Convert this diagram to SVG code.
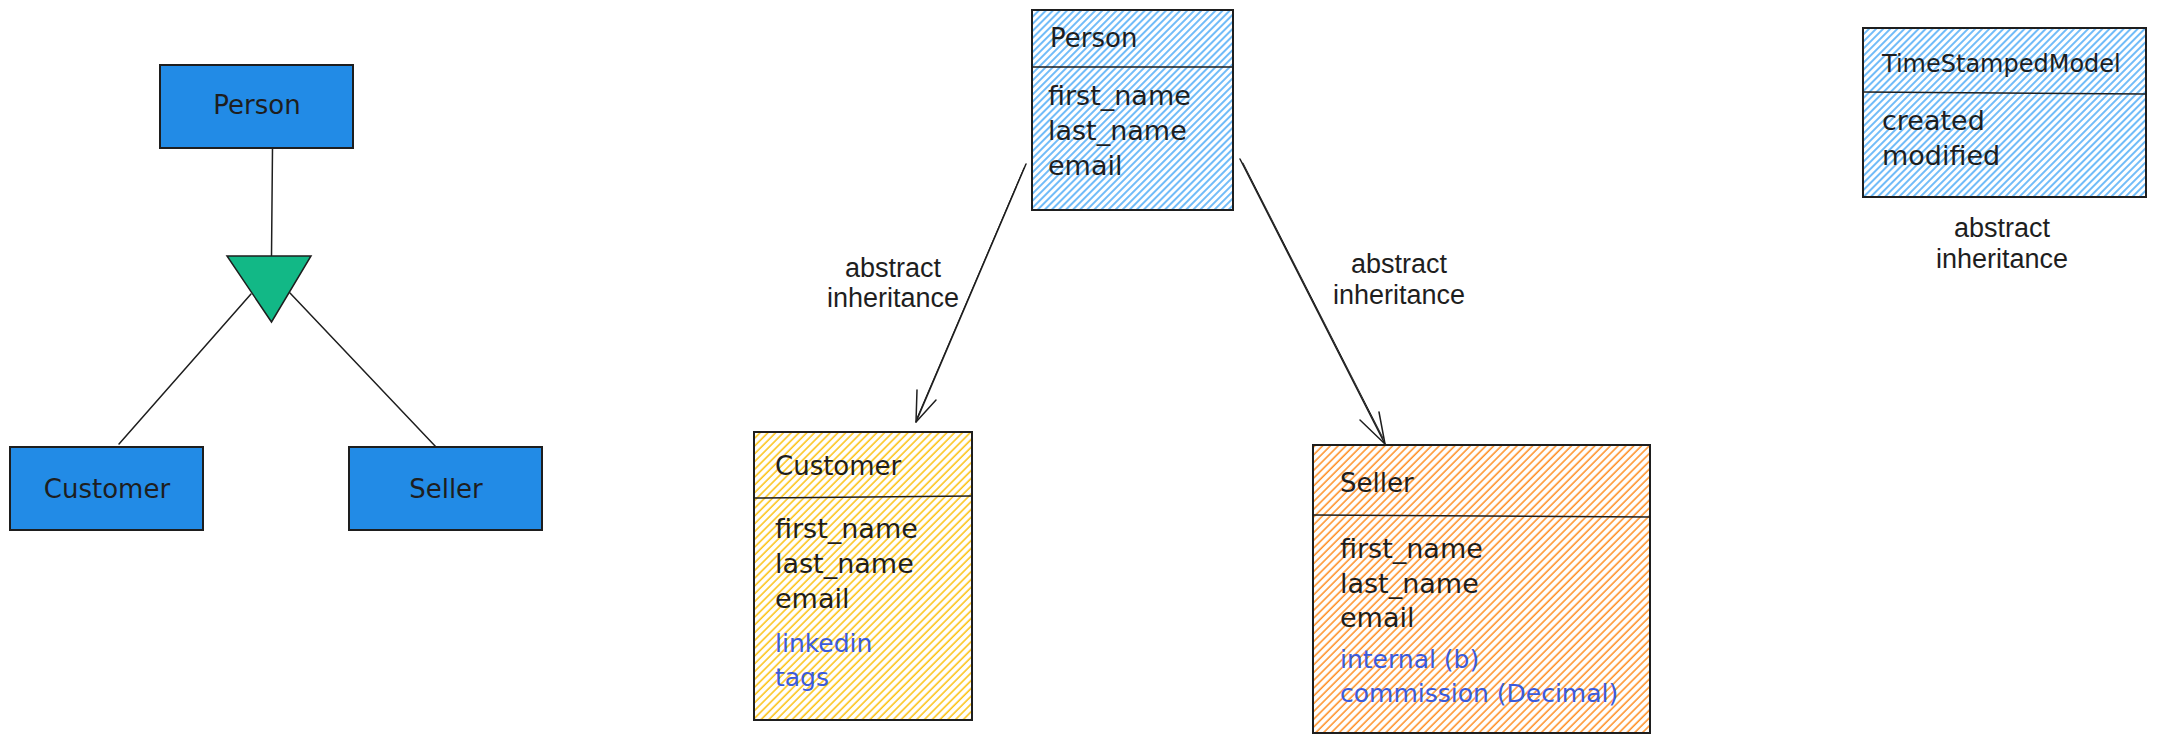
<svg xmlns="http://www.w3.org/2000/svg" width="2157" height="742" viewBox="0 0 2157 742">
  <style>
    .box { stroke: #1e1e1e; stroke-width: 2; }
    .solid { fill: #228be6; }
    .hand { font-family: "DejaVu Sans", "Noto Sans", sans-serif; fill: #1e1e1e; }
    .t24 { font-size: 24px; }
    .t26 { font-size: 26px; }
    .t28 { font-size: 27px; }
    .blue { fill: #3b5bdb; font-size: 25px; }
    .lbl { font-family: "Liberation Sans", Arial, sans-serif; font-size: 27px; fill: #1e1e1e; text-anchor: middle; }
    .conn { stroke: #1e1e1e; stroke-width: 1.5; fill: none; stroke-linecap: round; stroke-linejoin: round; }
    .sk { stroke: #1e1e1e; stroke-width: 1; fill: none; stroke-linecap: round; }
    .div { stroke: #1e1e1e; stroke-width: 1.5; }
  </style>
  <defs>
    <pattern id="hBlue" patternUnits="userSpaceOnUse" width="5" height="10" patternTransform="rotate(45)">
      <line x1="2" y1="0" x2="2" y2="10" stroke="#4dabf7" stroke-width="1.6"/>
    </pattern>
    <pattern id="hYellow" patternUnits="userSpaceOnUse" width="5.5" height="10" patternTransform="rotate(45)">
      <line x1="2" y1="0" x2="2" y2="10" stroke="#fcc419" stroke-width="1.6"/>
    </pattern>
    <pattern id="hOrange" patternUnits="userSpaceOnUse" width="5.5" height="10" patternTransform="rotate(45)">
      <line x1="2" y1="0" x2="2" y2="10" stroke="#ff922b" stroke-width="1.6"/>
    </pattern>
  </defs>
  <rect width="2157" height="742" fill="#ffffff"/>

  <g id="connectors">
    <line class="conn" x1="272.5" y1="148" x2="271.5" y2="256"/>
    <line class="conn" x1="251" y1="294" x2="119" y2="444"/>
    <line class="conn" x1="290" y1="293" x2="436" y2="447"/>
    <path class="conn" d="M1026 164 L916 422"/>
    <path class="sk" d="M1024 168 L917 418"/>
    <path class="conn" d="M917 390 L916 422 L936 400"/>
    <path class="conn" d="M1240 159 L1385 444"/>
    <path class="sk" d="M1243 163 L1383 438"/>
    <path class="conn" d="M1379 412 L1385 444 L1360 420"/>
  </g>

  <g id="er-person">
    <rect class="box solid" x="160" y="65" width="193" height="83"/>
    <text class="hand t26" x="257" y="114" text-anchor="middle">Person</text>
  </g>
  <g id="er-isa">
    <polygon points="227,256 311,256 271.5,322" fill="#12b886" stroke="#1e1e1e" stroke-width="1.5"/>
  </g>
  <g id="er-customer">
    <rect class="box solid" x="10" y="447" width="193" height="83"/>
    <text class="hand t26" x="107" y="498" text-anchor="middle">Customer</text>
  </g>
  <g id="er-seller">
    <rect class="box solid" x="349" y="447" width="193" height="83"/>
    <text class="hand t26" x="446" y="498" text-anchor="middle">Seller</text>
  </g>

  <g id="uml-person">
    <rect class="box" x="1032" y="10" width="201" height="200" fill="url(#hBlue)"/>
    <line class="div" x1="1032" y1="67" x2="1233" y2="67"/>
    <text class="hand t26" x="1050" y="47">Person</text>
    <text class="hand t28" x="1048" y="105">first_name</text>
    <text class="hand t28" x="1048" y="140">last_name</text>
    <text class="hand t28" x="1048" y="175">email</text>
  </g>

  <g id="uml-customer">
    <rect class="box" x="754" y="432" width="218" height="288" fill="url(#hYellow)"/>
    <line class="div" x1="754" y1="498" x2="972" y2="496"/>
    <text class="hand t26" x="775" y="475">Customer</text>
    <text class="hand t28" x="775" y="538">first_name</text>
    <text class="hand t28" x="775" y="573">last_name</text>
    <text class="hand t28" x="775" y="608">email</text>
    <text class="hand blue" x="775" y="652">linkedin</text>
    <text class="hand blue" x="775" y="686">tags</text>
  </g>

  <g id="uml-seller">
    <rect class="box" x="1313" y="445" width="337" height="288" fill="url(#hOrange)"/>
    <line class="div" x1="1313" y1="515" x2="1650" y2="517"/>
    <text class="hand t26" x="1340" y="492">Seller</text>
    <text class="hand t28" x="1340" y="558">first_name</text>
    <text class="hand t28" x="1340" y="593">last_name</text>
    <text class="hand t28" x="1340" y="627">email</text>
    <text class="hand blue" x="1340" y="668">internal (b)</text>
    <text class="hand blue" x="1340" y="702">commission (Decimal)</text>
  </g>

  <g id="uml-timestampedmodel">
    <rect class="box" x="1863" y="28" width="283" height="169" fill="url(#hBlue)"/>
    <line class="div" x1="1863" y1="92" x2="2146" y2="94"/>
    <text class="hand t24" x="1882" y="72">TimeStampedModel</text>
    <text class="hand t28" x="1882" y="130">created</text>
    <text class="hand t28" x="1882" y="165">modified</text>
  </g>

  <g id="labels">
    <text class="lbl" x="893" y="277">abstract</text>
    <text class="lbl" x="893" y="307">inheritance</text>
    <text class="lbl" x="1399" y="273">abstract</text>
    <text class="lbl" x="1399" y="304">inheritance</text>
    <text class="lbl" x="2002" y="237">abstract</text>
    <text class="lbl" x="2002" y="268">inheritance</text>
  </g>
</svg>
